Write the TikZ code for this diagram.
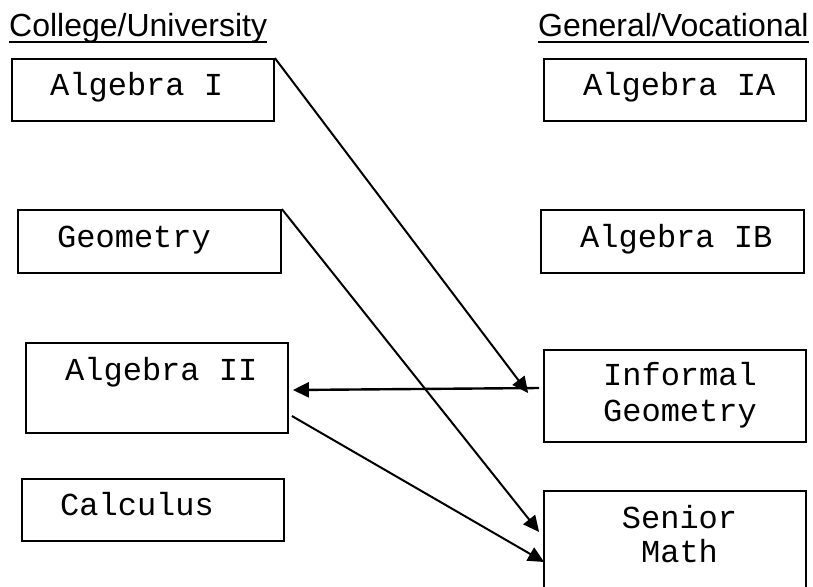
\documentclass[tikz,border=0pt]{standalone}
\usepackage{fontspec}
\usetikzlibrary{arrows.meta}
\usetikzlibrary{calc}
\newfontfamily\boxfont{Liberation Mono}
\newfontfamily\headfont{Liberation Sans}

\begin{document}
\begin{tikzpicture}
	[x=1pt,y=-1pt,
	 course/.style={draw, line width=1.8pt, inner sep=0pt},
	 lbl/.style={inner sep=0pt, font=\boxfont\fontsize{32}{36}\selectfont},
	 head/.style={inner sep=0pt, anchor=base west, font=\headfont\fontsize{32}{36}\selectfont},
	 link/.style={line width=2pt, -{Triangle[length=16pt,width=15pt]}}];

	\useasboundingbox (0,0) rectangle (813,586);

	%Headers
	\node[head] (hcol) at (9,37) {College/University};
	\node[head] (hgen) at (538,37) {General/Vocational};
	\draw[line width=2pt] ($(hcol.base west)+(0,5)$) -- ($(hcol.base east)+(0,5)$);
	\draw[line width=2pt] ($(hgen.base west)+(0,5)$) -- ($(hgen.base east)+(0,5)$);

	%Boxes, left column
	\node[course, minimum width=262pt, minimum height=62pt] (alg1) at (143,90) {};
	\node[course, minimum width=263pt, minimum height=63pt] (geom) at (149.5,241.5) {};
	\node[course, minimum width=262pt, minimum height=90pt] (alg2) at (157,388) {};
	\node[course, minimum width=262pt, minimum height=62pt] (calc) at (153,510) {};

	%Boxes, right column
	\node[course, minimum width=262pt, minimum height=62pt] (algIA) at (675,90) {};
	\node[course, minimum width=263pt, minimum height=63pt] (algIB) at (672.5,241.5) {};
	\node[course, minimum width=262pt, minimum height=92pt] (infgeo) at (675,396) {};
	\node[course, minimum width=262pt, minimum height=109pt] (senior) at (675,545.5) {};

	%Texts
	\node[lbl, anchor=base west] (talg1) at (50,95) {Algebra I};
	\node[lbl, anchor=base west] (tgeom) at (57,247) {Geometry};
	\node[lbl, anchor=base west] (talg2) at (65,380) {Algebra II};
	\node[lbl, anchor=base west] (tcalc) at (60,515) {Calculus};
	\node[lbl, anchor=base west] (talgIA) at (583,95) {Algebra IA};
	\node[lbl, anchor=base west] (talgIB) at (580,247) {Algebra IB};
	\node[lbl, anchor=base] (tinf) at (680,385) {Informal};
	\node[lbl, anchor=base] (tgeo) at (680,421) {Geometry};
	\node[lbl, anchor=base] (tsen) at (679.5,528) {Senior};
	\node[lbl, anchor=base] (tmath) at (679.5,562) {Math};

	%Arrows
	\draw[link] (alg1.north east) -- ($(infgeo.west)+(-15,-3)$);
	\draw[link, line width=2.4pt] ($(infgeo.west)+(-4,-8)$) -- ($(alg2.east)+(4,2)$);
	\draw[link] (geom.north east) -- ($(senior.west)+(-4,-13.5)$);
	\draw[link] ($(alg2.east)+(3,28)$) -- ($(senior.west)+(1,16.5)$);
\end{tikzpicture}
\end{document}
